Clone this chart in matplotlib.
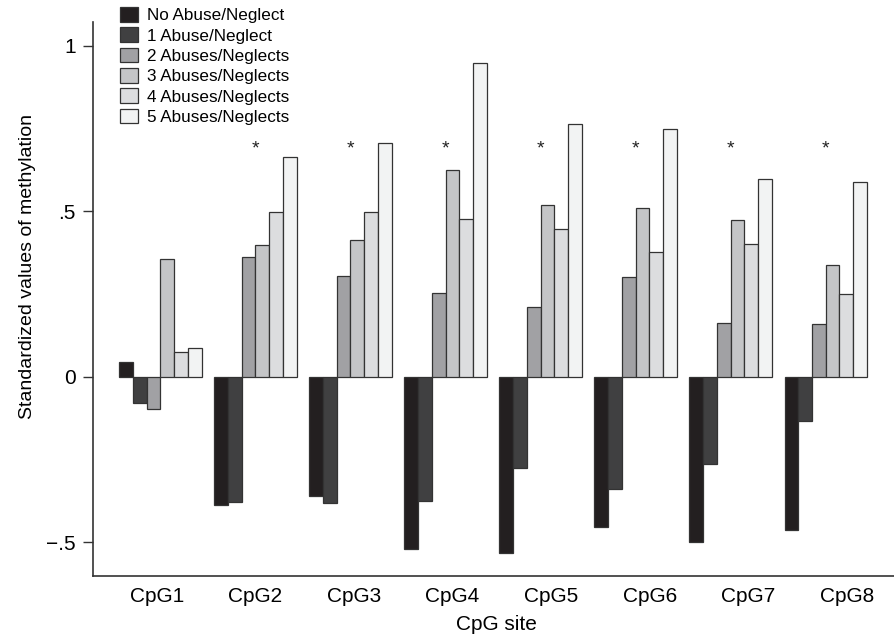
import numpy as np
import matplotlib
matplotlib.use("Agg")
import matplotlib.pyplot as plt

plt.rcParams['font.family'] = ['Liberation Sans', 'DejaVu Sans']

# --- DADOS ---
sites = ['CpG1', 'CpG2', 'CpG3', 'CpG4', 'CpG5', 'CpG6', 'CpG7', 'CpG8']
groups = ['No Abuse/Neglect', '1 Abuse/Neglect', '2 Abuses/Neglects',
          '3 Abuses/Neglects', '4 Abuses/Neglects', '5 Abuses/Neglects']

abuse0 = [0.043, -0.388, -0.360, -0.522, -0.532, -0.454, -0.499, -0.465]
abuse1 = [-0.081, -0.378, -0.381, -0.375, -0.277, -0.339, -0.265, -0.135]
abuse2 = [-0.098, 0.361, 0.305, 0.252, 0.210, 0.300, 0.163, 0.159]
abuse3 = [0.355, 0.397, 0.413, 0.625, 0.519, 0.510, 0.474, 0.337]
abuse4 = [0.074, 0.498, 0.497, 0.477, 0.447, 0.376, 0.402, 0.249]
abuse5 = [0.086, 0.663, 0.706, 0.950, 0.763, 0.748, 0.597, 0.588]
significant = [False, True, True, True, True, True, True, True]

series = [abuse0, abuse1, abuse2, abuse3, abuse4, abuse5]
colors = ['#231f20', '#404041', '#a1a1a4', '#c4c5c7', '#dcdddf', '#f2f3f3']

fig = plt.figure(figsize=(8.95, 6.41), dpi=100)
ax = fig.add_axes([0.1042, 0.1014, 0.8948, 0.8643])

x = np.arange(len(sites))
width = 0.1444
for i, (vals, col, lab) in enumerate(zip(series, colors, groups)):
    offset = (i - 2.5) * width
    ax.bar(x + offset, vals, width, color=col, edgecolor='#333333',
           linewidth=0.9, label=lab)

# asteriscos de significancia
for xi, sig in zip(x, significant):
    if sig:
        ax.text(xi, 0.69, '*', ha='center', va='center', fontsize=14,
                color='#222222')

ax.set_xlim(-0.7066, 7.72)
ax.set_ylim(-0.6027, 1.0726)

ax.set_yticks([1, 0.5, 0, -0.5])
ax.set_yticklabels(['1', '.5', '0', '\u2212.5'])
# rotulos do eixo x ficam um pouco mais espacados que os grupos
ax.set_xticks(x * 1.037 - 0.037)
ax.set_xticklabels(sites)

ax.tick_params(axis='y', length=7, width=1.0, pad=5.5, labelsize=15,
               color='#333333')
ax.tick_params(axis='x', length=0, pad=8, labelsize=15)

for s in ['top', 'right']:
    ax.spines[s].set_visible(False)
for s in ['left', 'bottom']:
    ax.spines[s].set_linewidth(1.2)
    ax.spines[s].set_color('#333333')

ax.set_xlabel('CpG site', fontsize=15)
ax.set_ylabel('Standardized values of methylation', fontsize=14)
ax.xaxis.set_label_coords(0.504, -0.070)
ax.yaxis.set_label_coords(-0.072, 0.558)

fig.legend(loc='upper left', bbox_to_anchor=(0.1345, 0.989), frameon=False,
           fontsize=12.3, borderpad=0, borderaxespad=0, handlelength=1.05,
           handleheight=0.95, handletextpad=0.49, labelspacing=0.24)

fig.savefig('out.png', dpi=100)
